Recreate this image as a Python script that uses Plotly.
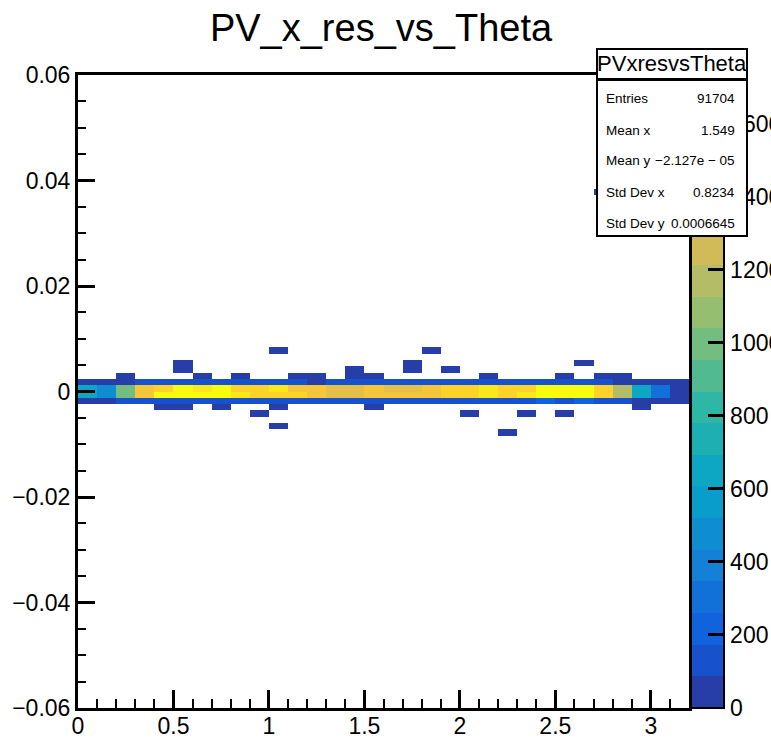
import numpy as np
import plotly.graph_objects as go

# ---- histogram binning -------------------------------------------------
theta_edges = np.round(np.arange(0.0, 3.2001, 0.1), 4)          # 32 bins
res_edges = np.round(np.linspace(-0.06, 0.06, 101), 6)          # 100 bins

# ---- bin contents of the populated residual bins, one value per theta bin
counts_res_0_to_p12 = [650, 480, 1000, 1430, 1520, 1680, 1600, 1690, 1530, 1510,
                       1590, 1450, 1420, 1350, 1340, 1440, 1370, 1360, 1460, 1500,
                       1540, 1620, 1550, 1530, 1700, 1680, 1710, 1490, 1170, 640,
                       300, 40]
counts_res_m12_to_0 = [660, 470, 990, 1450, 1690, 1710, 1670, 1700, 1600, 1520,
                       1500, 1480, 1410, 1330, 1350, 1430, 1440, 1420, 1450, 1530,
                       1550, 1610, 1540, 1590, 1690, 1720, 1700, 1510, 1160, 650,
                       310, 45]
counts_res_p12_to_p24 = [38, 55, 78, 120, 135, 140, 128, 150, 132, 118,
                         145, 125, 82, 112, 105, 130, 122, 115, 128, 138,
                         142, 150, 136, 128, 160, 148, 155, 118, 72, 45,
                         30, 6]
counts_res_m24_to_m12 = [36, 58, 105, 128, 140, 150, 138, 155, 142, 130,
                         120, 126, 115, 108, 112, 124, 118, 122, 130, 140,
                         146, 152, 148, 160, 195, 150, 188, 140, 112, 62,
                         34, 5]

# ---- isolated single entries (theta, residual)
single_theta = [1.05, 1.85,
                0.55, 1.75, 2.65,
                0.54, 1.45, 1.74, 1.95,
                0.25, 0.65, 0.85, 1.15, 1.25, 1.45, 1.55, 2.15, 2.55, 2.75, 2.85,
                0.45, 0.55, 0.75, 1.05, 1.55, 2.95,
                0.95, 2.05, 2.35, 2.55,
                1.05, 2.25, 2.75]
single_res = [0.0078, 0.0079,
              0.0055, 0.0053, 0.0056,
              0.0043, 0.0041, 0.0044, 0.0042,
              0.0031, 0.0029, 0.0030, 0.0032, 0.0028, 0.0031, 0.0029, 0.0030, 0.0031, 0.0029, 0.0032,
              -0.0031, -0.0029, -0.0030, -0.0032, -0.0028, -0.0031,
              -0.0043, -0.0041, -0.0044, -0.0042,
              -0.0066, -0.0079, 0.0378]

# ---- statistics box contents
stats_name = "PVxresvsTheta"
stats_labels = ["Entries", "Mean x", "Mean y", "Std Dev x", "Std Dev y"]
stats_values = ["91704", "1.549", "\u22122.127e \u2212 05", "0.8234", "0.0006645"]

# ---- fill the 2D histogram
nx, ny = len(theta_edges) - 1, len(res_edges) - 1
z = np.zeros((ny, nx))
dres = res_edges[1] - res_edges[0]
j0 = int(round((0.0 - res_edges[0]) / dres))          # first bin above zero
z[j0, :] = counts_res_0_to_p12
z[j0 - 1, :] = counts_res_m12_to_0
z[j0 + 1, :] = counts_res_p12_to_p24
z[j0 - 2, :] = counts_res_m24_to_m12
for t, r in zip(single_theta, single_res):
    i = np.searchsorted(theta_edges, t, side="right") - 1
    j = np.searchsorted(res_edges, r, side="right") - 1
    z[j, i] += 1
z_plot = np.where(z > 0, z, np.nan)

# ---- ROOT "bird" palette, 20 contour levels
stops = [0.0, 0.125, 0.25, 0.375, 0.5, 0.625, 0.75, 0.875, 1.0]
red = [0.2082, 0.0592, 0.0780, 0.0232, 0.1802, 0.5301, 0.8186, 0.9956, 0.9764]
green = [0.1664, 0.3599, 0.5041, 0.6419, 0.7178, 0.7492, 0.7328, 0.7862, 0.9832]
blue = [0.5293, 0.8684, 0.8385, 0.7914, 0.6425, 0.4662, 0.3499, 0.1968, 0.0539]


def bird(f):
    r = np.interp(f, stops, red)
    g = np.interp(f, stops, green)
    b = np.interp(f, stops, blue)
    return "rgb(%d,%d,%d)" % (round(r * 255), round(g * 255), round(b * 255))


n_levels = 20
n_colors = 255
colorscale = []
for lev in range(n_levels):
    idx = int((lev + 0.99) * n_colors / n_levels)
    c = bird(idx / (n_colors - 1))
    colorscale.append([lev / n_levels, c])
    colorscale.append([(lev + 1) / n_levels, c])

z_max = 1734

FONT = "Liberation Sans, Arial, Helvetica, sans-serif"

fig = go.Figure()
fig.add_trace(go.Heatmap(
    x=theta_edges, y=res_edges, z=z_plot,
    colorscale=colorscale, zmin=0, zmax=z_max, zsmooth=False,
    hoverinfo="skip",
    colorbar=dict(
        thickness=33, thicknessmode="pixels",
        len=1, lenmode="fraction", y=0.5, yanchor="middle", ypad=0,
        x=1, xanchor="left", xpad=2,
        outlinewidth=2, outlinecolor="black",
        ticks="inside", ticklen=17, tickwidth=3, tickcolor="black",
        tick0=0, dtick=200,
        tickfont=dict(family=FONT, size=23, color="black"),
    ),
))

axis_common = dict(
    showline=True, linecolor="black", linewidth=3, mirror=True,
    ticks="inside", tickcolor="black", tickwidth=3,
    showgrid=False, zeroline=False,
    tickfont=dict(family=FONT, size=23, color="black"),
)
fig.update_xaxes(range=[0, 3.2], tick0=0, dtick=0.5, ticklen=18,
                 ticklabelstandoff=-5,
                 minor=dict(ticks="inside", dtick=0.1, ticklen=9, tickwidth=2,
                            tickcolor="black", showgrid=False),
                 **axis_common)
fig.update_yaxes(range=[-0.06, 0.06], tick0=0, dtick=0.02, ticklen=17,
                 minor=dict(ticks="inside", dtick=0.005, ticklen=8, tickwidth=2,
                            tickcolor="black", showgrid=False),
                 **axis_common)

W, H = 771, 740
ML, MR, MT, MB = 78, 82, 75, 32
pw, ph = W - ML - MR, H - MT - MB


def px_x(px):
    return (px - ML) / pw


def px_y(py):
    return (H - MB - py) / ph


annotations = []
# statistics box: header and body panels
box_l, box_r, box_t, box_mid, box_b = 595.5, 747.5, 48, 79.5, 237
annotations.append(dict(
    xref="paper", yref="paper", x=px_x((box_l + box_r) / 2), y=px_y((box_mid + box_b) / 2),
    xanchor="center", yanchor="middle", text=" ", showarrow=False,
    width=box_r - box_l - 4, height=box_b - box_mid - 4, bgcolor="white",
    bordercolor="black", borderwidth=2, borderpad=0, font=dict(size=2)))
annotations.append(dict(
    xref="paper", yref="paper", x=px_x((box_l + box_r) / 2), y=px_y((box_t + box_mid) / 2),
    xanchor="center", yanchor="middle", text=stats_name, showarrow=False,
    width=box_r - box_l - 4, height=box_mid - box_t - 4, bgcolor="white",
    bordercolor="black", borderwidth=2, borderpad=0,
    font=dict(family=FONT, size=22, color="black")))
row_y = [98, 130, 160.5, 193, 223]
for lab, val, yy in zip(stats_labels, stats_values, row_y):
    annotations.append(dict(xref="paper", yref="paper", x=px_x(604), y=px_y(yy),
                            xanchor="left", yanchor="middle", text=lab, showarrow=False,
                            font=dict(family=FONT, size=13.5, color="black")))
    annotations.append(dict(xref="paper", yref="paper", x=px_x(737), y=px_y(yy),
                            xanchor="right", yanchor="middle", text=val, showarrow=False,
                            font=dict(family=FONT, size=13.5, color="black")))

fig.update_layout(
    width=W, height=H,
    margin=dict(l=ML, r=MR, t=MT, b=MB, pad=0, autoexpand=False),
    paper_bgcolor="white", plot_bgcolor="white",
    title=dict(text="PV_x_res_vs_Theta", x=381 / W, xanchor="center",
               y=1 - 28 / H, yanchor="middle",
               font=dict(family=FONT, size=38, color="black")),
    annotations=annotations,
    font=dict(family=FONT, color="black"),
    showlegend=False,
)

fig.write_html("out.html")
